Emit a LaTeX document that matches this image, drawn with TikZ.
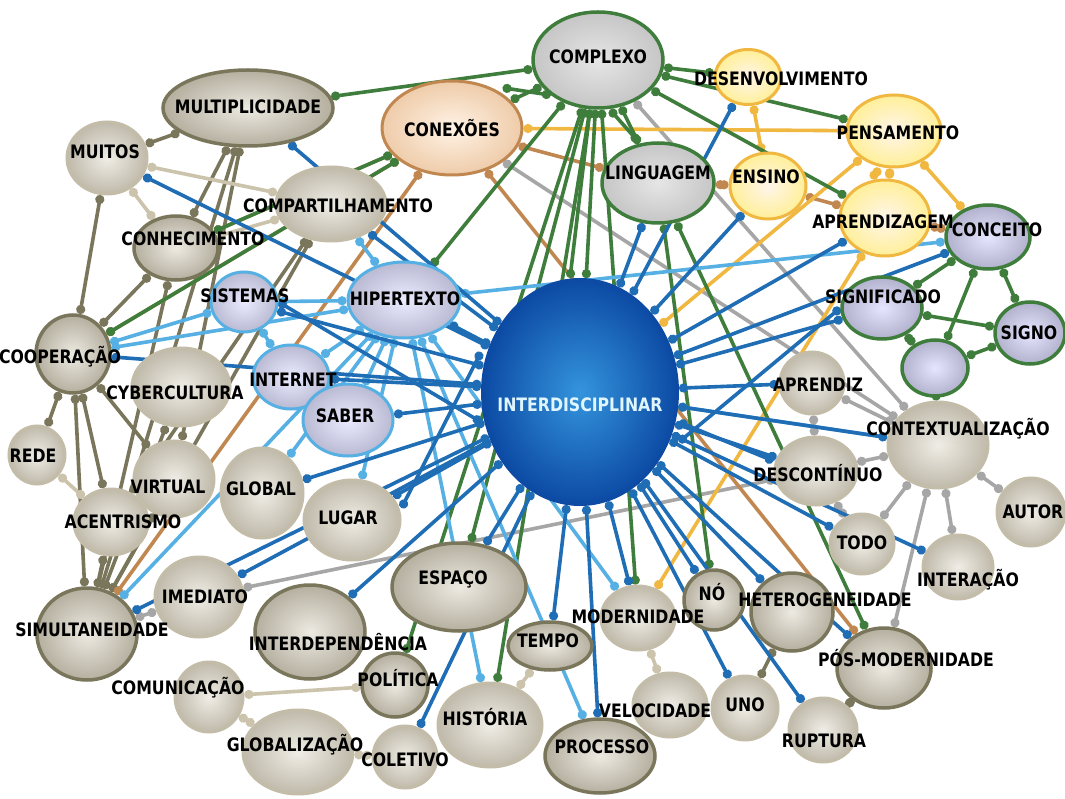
\documentclass[tikz,border=0pt]{standalone}
\usepackage{fontspec}
\newfontfamily\lblfont[FakeStretch=0.85]{DejaVu Sans}
\usetikzlibrary{shapes.geometric,arrows.meta}
\pgfdeclarelayer{back}
\pgfdeclarelayer{bg}
\pgfsetlayers{back,bg,main}
\definecolor{cdb}{HTML}{1F6DB4}
\definecolor{clb}{HTML}{57B0E3}
\definecolor{cgn}{HTML}{3F7D3C}
\definecolor{col}{HTML}{7A765C}
\definecolor{ctn}{HTML}{CBC3AC}
\definecolor{cgr}{HTML}{A6A6A6}
\definecolor{cbr}{HTML}{C08850}
\definecolor{cye}{HTML}{F0B840}
\definecolor{cin}{HTML}{3494DC}
\definecolor{cout}{HTML}{0C4AA4}
\tikzset{
  el/.style 2 args={ellipse, minimum width=#1pt, minimum height=#2pt, inner sep=0pt},
  graynode/.style={draw=ctn!90!gray, line width=3pt, inner color=white!70!ctn, outer color=ctn!75!gray!90},
  olivenode/.style={draw=col, line width=3.5pt, inner color=white!65!ctn, outer color=ctn!70!gray},
  greennode/.style={draw=cgn, line width=3.5pt, inner color=white!80!gray, outer color=gray!45},
  lavgreen/.style={draw=cgn, line width=3.5pt, inner color=blue!10, outer color=blue!22!gray!50},
  bluenode/.style={draw=clb, line width=3pt, inner color=blue!8, outer color=blue!22!gray!45},
  orangenode/.style={draw=cye, line width=3pt, inner color=orange!8, outer color=orange!30!yellow!40},
  brownnode/.style={draw=cbr, line width=3pt, inner color=orange!10, outer color=orange!35!brown!40},
  mainnode/.style={draw=cout, line width=2pt, inner color=cin, outer color=cout},
  lbl/.style={inner sep=0pt, font=\lblfont\bfseries\fontsize{18.5}{20}\selectfont, text=black},
  edge/.style={line width=3.6pt, {Circle[length=9pt,width=9pt]}-{Circle[length=9pt,width=9pt]}},
  edb/.style={edge, draw=cdb, fill=cdb},
  elb/.style={edge, draw=clb, fill=clb},
  egn/.style={edge, draw=cgn, fill=cgn},
  eol/.style={edge, draw=col, fill=col},
  etn/.style={edge, draw=ctn, fill=ctn},
  egr/.style={edge, draw=cgr, fill=cgr},
  ebr/.style={edge, draw=cbr, fill=cbr},
  eye/.style={edge, draw=cye, fill=cye},
}
\begin{document}
\begin{tikzpicture}[x=1pt,y=-1pt]
\useasboundingbox (0,0) rectangle (1065,799);
\begin{pgfonlayer}{back}
\fill[white] (0,0) rectangle (1065,799);
\end{pgfonlayer}

% concept ellipses
\node[el={130}{96}, greennode] (cplx) at (598,60) {};
\node[el={170}{76}, olivenode] (mult) at (248,108) {};
\node[el={140}{94}, brownnode] (conx) at (452,128) {};
\node[el={66}{55}, orangenode] (desv) at (748,77) {};
\node[el={94}{72}, orangenode] (pens) at (894,131) {};
\node[el={76}{66}, orangenode] (ensi) at (768,186) {};
\node[el={90}{76}, orangenode] (aprg) at (885,218) {};
\node[el={84}{64}, lavgreen] (conc) at (988,237) {};
\node[el={112}{80}, greennode] (ling) at (658,183) {};
\node[el={80}{72}, graynode] (muit) at (107,158) {};
\node[el={110}{74}, graynode] (comp) at (331,204) {};
\node[el={84}{64}, olivenode] (conh) at (176,248) {};
\node[el={66}{60}, bluenode] (sist) at (244,302) {};
\node[el={112}{76}, bluenode] (hipe) at (404,300) {};
\node[el={196}{226}, mainnode] (inter) at (580,392) {};
\node[el={74}{78}, olivenode] (coop) at (73,354) {};
\node[el={98}{78}, graynode] (cybe) at (181,387) {};
\node[el={76}{64}, bluenode] (inet) at (291,377) {};
\node[el={90}{72}, bluenode] (sabe) at (348,420) {};
\node[el={56}{58}, graynode] (rede) at (37,455) {};
\node[el={80}{76}, graynode] (virt) at (174,479) {};
\node[el={82}{90}, graynode] (glob) at (262,493) {};
\node[el={74}{66}, graynode] (acen) at (111,522) {};
\node[el={96}{80}, graynode] (luga) at (352,520) {};
\node[el={88}{80}, graynode] (imed) at (199,597) {};
\node[el={100}{92}, olivenode] (simu) at (87,634) {};
\node[el={134}{88}, olivenode] (espa) at (459,587) {};
\node[el={110}{94}, olivenode] (intd) at (310,632) {};
\node[el={66}{64}, olivenode] (poli) at (395,685) {};
\node[el={68}{70}, graynode] (comu) at (209,697) {};
\node[el={110}{84}, graynode] (glbz) at (298,752) {};
\node[el={64}{62}, graynode] (cole) at (405,757) {};
\node[el={104}{84}, graynode] (hist) at (490,725) {};
\node[el={84}{48}, olivenode] (temp) at (550,646) {};
\node[el={110}{74}, olivenode] (proc) at (600,756) {};
\node[el={74}{64}, graynode] (mode) at (638,618) {};
\node[el={74}{64}, graynode] (velo) at (670,705) {};
\node[el={60}{60}, olivenode] (no) at (714,600) {};
\node[el={66}{64}, graynode] (uno) at (745,708) {};
\node[el={82}{78}, olivenode] (hete) at (792,612) {};
\node[el={68}{64}, graynode] (rupt) at (823,730) {};
\node[el={94}{80}, olivenode] (posm) at (884,668) {};
\node[el={64}{60}, graynode] (todo) at (862,544) {};
\node[el={70}{64}, graynode] (inta) at (958,567) {};
\node[el={68}{68}, graynode] (auto) at (1031,512) {};
\node[el={100}{86}, graynode] (cont) at (938,445) {};
\node[el={82}{68}, graynode] (desc) at (816,471) {};
\node[el={64}{62}, graynode] (apdz) at (812,383) {};
\node[el={80}{62}, lavgreen] (sign) at (882,308) {};
\node[el={70}{62}, lavgreen] (sigo) at (1030,333) {};
\node[el={66}{56}, lavgreen] (unk) at (935,368) {};

% labels
\node[lbl] (tcplx) at (598,57) {COMPLEXO};
\node[lbl] (tmult) at (248,107) {MULTIPLICIDADE};
\node[lbl] (tconx) at (452,128) {CONEXÕES};
\node[lbl] (tdesv) at (781,79) {DESENVOLVIMENTO};
\node[lbl] (tpens) at (898,133) {PENSAMENTO};
\node[lbl] (tensi) at (766,177) {ENSINO};
\node[lbl] (taprg) at (883,222) {APRENDIZAGEM};
\node[lbl] (tconc) at (997,230) {CONCEITO};
\node[lbl] (tling) at (658,173) {LINGUAGEM};
\node[lbl] (tmuit) at (105,152) {MUITOS};
\node[lbl] (tcomp) at (338,206) {COMPARTILHAMENTO};
\node[lbl] (tconh) at (193,239) {CONHECIMENTO};
\node[lbl] (tsist) at (245,296) {SISTEMAS};
\node[lbl] (thipe) at (405,299) {HIPERTEXTO};
\node[lbl, text=white!88!cyan] (tinter) at (580,405) {INTERDISCIPLINAR};
\node[lbl] (tcoop) at (60,357) {COOPERAÇÃO};
\node[lbl] (tcybe) at (175,393) {CYBERCULTURA};
\node[lbl] (tinet) at (293,380) {INTERNET};
\node[lbl] (tsabe) at (345,416) {SABER};
\node[lbl] (trede) at (33,456) {REDE};
\node[lbl] (tvirt) at (168,487) {VIRTUAL};
\node[lbl] (tglob) at (261,489) {GLOBAL};
\node[lbl] (tacen) at (123,522) {ACENTRISMO};
\node[lbl] (tluga) at (348,518) {LUGAR};
\node[lbl] (timed) at (205,597) {IMEDIATO};
\node[lbl] (tsimu) at (92,630) {SIMULTANEIDADE};
\node[lbl] (tespa) at (453,579) {ESPAÇO};
\node[lbl] (tintd) at (338,642) {INTERDEPENDÊNCIA};
\node[lbl] (tpoli) at (398,678) {POLÍTICA};
\node[lbl] (tcomu) at (178,688) {COMUNICAÇÃO};
\node[lbl] (tglbz) at (295,745) {GLOBALIZAÇÃO};
\node[lbl] (tcole) at (405,760) {COLETIVO};
\node[lbl] (thist) at (485,717) {HISTÓRIA};
\node[lbl] (ttemp) at (548,641) {TEMPO};
\node[lbl] (tproc) at (602,747) {PROCESSO};
\node[lbl] (tmode) at (638,617) {MODERNIDADE};
\node[lbl] (tvelo) at (655,711) {VELOCIDADE};
\node[lbl] (tno) at (712,592) {NÓ};
\node[lbl] (tuno) at (745,705) {UNO};
\node[lbl] (thete) at (825,600) {HETEROGENEIDADE};
\node[lbl] (trupt) at (824,741) {RUPTURA};
\node[lbl] (tposm) at (906,658) {PÓS-MODERNIDADE};
\node[lbl] (ttodo) at (862,543) {TODO};
\node[lbl] (tinta) at (968,580) {INTERAÇÃO};
\node[lbl] (tauto) at (1033,512) {AUTOR};
\node[lbl] (tcont) at (958,429) {CONTEXTUALIZAÇÃO};
\node[lbl] (tdesc) at (818,473) {DESCONTÍNUO};
\node[lbl] (tapdz) at (818,385) {APRENDIZ};
\node[lbl] (tsign) at (883,297) {SIGNIFICADO};
\node[lbl] (tsigo) at (1029,333) {SIGNO};

\begin{pgfonlayer}{bg}
% olive links, left cluster
\foreach \a/\b in {mult/muit, mult/conh, mult/virt, muit/coop, conh/coop, conh/simu,
  coop/rede, coop/acen, coop/simu, coop/virt, mult/simu, comp/simu, cybe/simu,
  acen/simu, virt/simu, comp/acen, hete/uno, posm/rupt}
  \draw[eol] (\a) -- (\b);
% tan links
\foreach \a/\b in {muit/comp, muit/conh, conh/comp, rede/acen, comu/poli, comu/glbz,
  glbz/cole, temp/hist, mode/velo}
  \draw[etn] (\a) -- (\b);
% grey links
\foreach \a/\b in {cplx/cont, conx/cont, cont/apdz, cont/desc, cont/todo, cont/inta,
  cont/auto, cont/posm, apdz/desc, imed/desc, simu/imed, desc/todo}
  \draw[egr] (\a) -- (\b);
% brown links
\foreach \a/\b in {conx/coop, conx/simu, conx/posm, conx/ling, ling/ensi, ensi/aprg,
  aprg/conc, conx/conh}
  \draw[ebr] (\a) -- (\b);
% yellow links
\foreach \a/\b in {conx/pens, desv/ensi, pens/aprg, pens/conc, aprg/mode, pens/inter}
  \draw[eye] (\a) -- (\b);
\draw[eye] ([xshift=-14pt]pens.south) -- ([xshift=-14pt]aprg.north);
% green links
\foreach \a/\b in {cplx/mult, cplx/conx, cplx/desv, cplx/pens, cplx/aprg, cplx/ling,
  cplx/inter, cplx/hipe, cplx/espa, cplx/hist, cplx/poli, cplx/mode, ling/no, ling/posm,
  conx/coop, conx/conh, conc/sign, conc/sigo, conc/unk, sign/sigo, sign/unk, unk/sigo,
  unk/cont}
  \draw[egn] (\a) -- (\b);
\draw[egn] (cplx.south west) -- ([yshift=6pt]conx.north east);
\draw[egn] ([xshift=12pt]cplx.south) -- ([xshift=-20pt]ling.north);
\draw[egn] ([xshift=-8pt]cplx.south) -- ([xshift=-10pt]inter.north);
% light blue links
\foreach \a/\b in {hipe/sist, hipe/inet, hipe/sabe, hipe/coop, hipe/comp, hipe/glob,
  hipe/simu, hipe/hist, hipe/proc, hipe/mode, hipe/conc, hipe/inter, sist/inet,
  sist/coop, sabe/inet, inter/cont, hipe/luga}
  \draw[elb] (\a) -- (\b);
% dark blue links to the centre
\foreach \a in {muit, mult, comp, sist, hipe, coop, inet, sabe, glob, luga, imed, simu,
  intd, espa, cole, temp, proc, mode, no, uno, hete, rupt, posm, todo, inta, desc,
  apdz, cont, sign, conc, aprg, ling, desv, ensi}
  \draw[edb] (\a) -- (inter);
\draw[edb] ([yshift=12pt]luga.east) -- ([yshift=40pt]inter.west);
\draw[edb] (sist.east) -- ([yshift=-30pt]inter.west);
\draw[edb] ([yshift=10pt]desc.west) -- ([yshift=-30pt]inter.east);
\draw[edb] (sign.west) -- ([yshift=-50pt]inter.east);
\end{pgfonlayer}
\end{tikzpicture}
\end{document}
